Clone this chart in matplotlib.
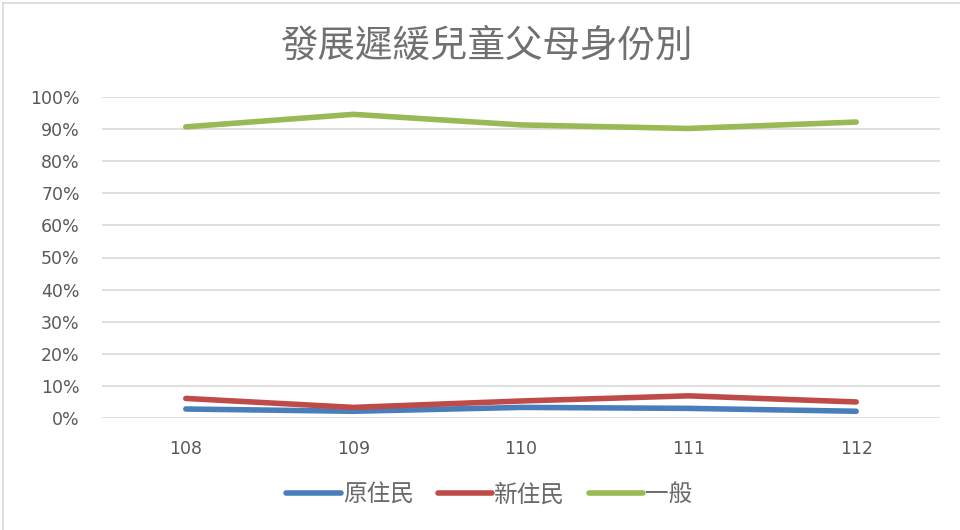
import numpy as np
import matplotlib.pyplot as plt
from matplotlib.lines import Line2D
from matplotlib.ticker import PercentFormatter

plt.rcParams['font.family'] = ['Noto Sans CJK TC', 'DejaVu Sans']

# Data
years = ['108', '109', '110', '111', '112']
indigenous = [2.8, 2.1, 3.3, 3.0, 2.1]
new_residents = [6.1, 3.3, 5.3, 6.9, 5.0]
general = [90.7, 94.6, 91.3, 90.2, 92.2]

series_names = ['原住民', '新住民', '一般']
series_colors = ['#4a7ebb', '#be4b48', '#98b954']

fig = plt.figure(figsize=(9.6, 5.3), dpi=100)
ax = fig.add_axes([102 / 960, 1 - 418 / 530, 838 / 960, 321 / 530])

x = np.arange(len(years))
for vals, name, col in zip([indigenous, new_residents, general], series_names, series_colors):
    ax.plot(x, vals, color=col, linewidth=4, solid_capstyle='round', label=name)

ax.set_xlim(-0.5, len(years) - 0.5)
ax.set_ylim(0, 100)
ax.set_yticks(np.arange(0, 101, 10))
ax.yaxis.set_major_formatter(PercentFormatter(decimals=0))
ax.set_xticks(x)
ax.set_xticklabels(years)
ax.grid(axis='y', color='#d9d9d9', linewidth=1.2)
ax.set_axisbelow(True)
for s in ['top', 'right', 'left', 'bottom']:
    ax.spines[s].set_visible(False)
ax.tick_params(axis='both', length=0, colors='#595959')
ax.tick_params(axis='y', pad=16)
ax.tick_params(axis='x', pad=16)
for lab in ax.get_xticklabels() + ax.get_yticklabels():
    lab.set_fontfamily('DejaVu Sans')
    lab.set_fontsize(12.5)

fig.text(0.507, 1 - 46 / 530, '發展遲緩兒童父母身份別', ha='center', va='center',
         fontsize=27, color='#707070', fontweight='light')

leg = fig.legend(loc='center', bbox_to_anchor=(0.51, 1 - 495 / 530), ncol=3,
                 frameon=False, fontsize=17, handlelength=2.3, handletextpad=0.1,
                 columnspacing=1.0, labelcolor='#6a6a6a')

# chart area outline (only top and left visible in the reference crop)
fig.lines.append(Line2D([3 / 960, 3 / 960], [0, 1 - 3 / 530], transform=fig.transFigure,
                        color='#d9d9d9', linewidth=1.2))
fig.lines.append(Line2D([3 / 960, 1], [1 - 3 / 530, 1 - 3 / 530], transform=fig.transFigure,
                        color='#d9d9d9', linewidth=1.2))

fig.savefig('out.png', dpi=100)
